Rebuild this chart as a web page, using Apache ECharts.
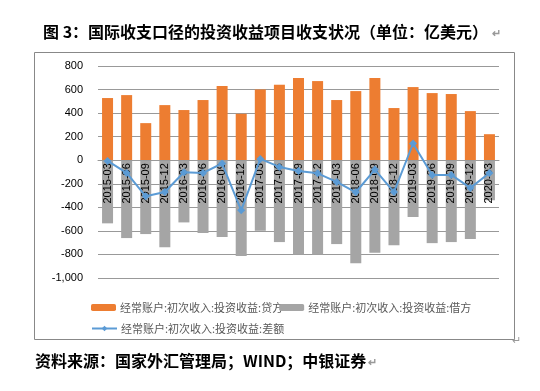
<!DOCTYPE html>
<html>
<head>
<meta charset="utf-8">
<script src="https://cdn.jsdelivr.net/npm/echarts@6/dist/echarts.min.js"></script>
<style>
html,body{margin:0;padding:0;background:#fff;}
#chart{width:540px;height:391px;}
</style>
</head>
<body>
<div id="chart"></div>
<script>
const categories = ['2015-03','2015-06','2015-09','2015-12','2016-03','2016-06','2016-09','2016-12','2017-03','2017-06','2017-09','2017-12','2018-03','2018-06','2018-09','2018-12','2019-03','2019-06','2019-09','2019-12','2020-03'];
const credit = [528,553,315,468,426,511,630,394,601,641,698,672,511,587,698,443,621,570,562,417,221];
const debit = [-536,-661,-627,-738,-528,-618,-652,-814,-599,-695,-800,-800,-712,-874,-786,-721,-482,-704,-695,-669,-340];
const balance = [-6,-108,-306,-270,-102,-108,-28,-425,11,-57,-91,-111,-184,-272,-79,-270,142,-125,-125,-235,-108];
const yTicks = {min:-1000, max:800, interval:200};
const seriesNames = ['经常账户:初次收入:投资收益:贷方','经常账户:初次收入:投资收益:借方','经常账户:初次收入:投资收益:差额'];
const titleText = '图 3：国际收支口径的投资收益项目收支状况（单位：亿美元）';
const sourceText = '资料来源：国家外汇管理局；WIND；中银证券';

const gridTop = 66, gridHeight = 212;
// distance from the grid bottom up to the zero line, so the category axis sits on zero
const zeroOffset = gridHeight * (0 - yTicks.min) / (yTicks.max - yTicks.min);

const chart = echarts.init(document.getElementById('chart'), null, {renderer:'canvas'});
const cjk = '"Noto Sans CJK SC", "Noto Sans", sans-serif';
chart.setOption({
  animation:false,
  backgroundColor:'#fff',
  title:[
    {text:'{t|'+titleText+'}{m|↵}', left:38, top:19,
     textStyle:{rich:{t:{fontSize:16,fontWeight:'bold',color:'#000',fontFamily:cjk},m:{fontSize:11,color:'#999',padding:[4,0,0,4]}}}},
    {text:'{t|'+sourceText+'}{m|↵}', left:30, top:348,
     textStyle:{rich:{t:{fontSize:16,fontWeight:'bold',color:'#000',fontFamily:cjk},m:{fontSize:11,color:'#999',padding:[4,0,0,2]}}}},
    {text:'↵', left:507, top:330, textStyle:{fontSize:11,color:'#999',fontWeight:'normal'}}
  ],
  graphic:[{type:'rect', shape:{x:34.5,y:52.5,width:480,height:287}, style:{fill:'none',stroke:'#888',lineWidth:1}, silent:true, z:-1}],
  grid:{left:98, right:41, top:gridTop, height:gridHeight, containLabel:false},
  legend:[
    {data:[seriesNames[0],seriesNames[1]], left:86, top:297, itemWidth:25, itemHeight:7, itemGap:-4,
     textStyle:{fontSize:11,color:'#595959',fontFamily:cjk,padding:[0,0,0,-1]}},
    {data:[seriesNames[2]], left:86, top:318, itemWidth:25, itemHeight:7,
     textStyle:{fontSize:11,color:'#595959',fontFamily:cjk,padding:[0,0,0,-1]}}
  ],
  xAxis:{type:'category', data:categories, boundaryGap:true, z:10, position:'bottom', offset:-zeroOffset,
    axisLine:{onZero:false, lineStyle:{color:'#999',width:1}},
    axisTick:{show:false},
    axisLabel:{rotate:90, fontSize:11, color:'#000', margin:3, interval:0, fontFamily:'"Liberation Sans", Arial, sans-serif'}},
  yAxis:{type:'value', min:yTicks.min, max:yTicks.max, interval:yTicks.interval,
    axisLine:{show:false}, axisTick:{show:false},
    axisLabel:{fontSize:11, color:'#000', margin:15, fontFamily:'"Liberation Sans", Arial, sans-serif',
      formatter:v=>v.toLocaleString('en-US')},
    splitLine:{lineStyle:{color:'#999',width:1}}},
  series:[
    {name:seriesNames[0], type:'bar', data:credit, barWidth:11, barGap:'-100%', itemStyle:{color:'#ED7D31'}, z:2},
    {name:seriesNames[1], type:'bar', data:debit, barWidth:11, barGap:'-100%', itemStyle:{color:'#A5A5A5'}, z:2},
    {name:seriesNames[2], type:'line', data:balance, z:20, symbol:'diamond', symbolSize:8,
     lineStyle:{color:'#5B9BD5',width:2}, itemStyle:{color:'#5B9BD5'}}
  ]
});
</script>
</body>
</html>
